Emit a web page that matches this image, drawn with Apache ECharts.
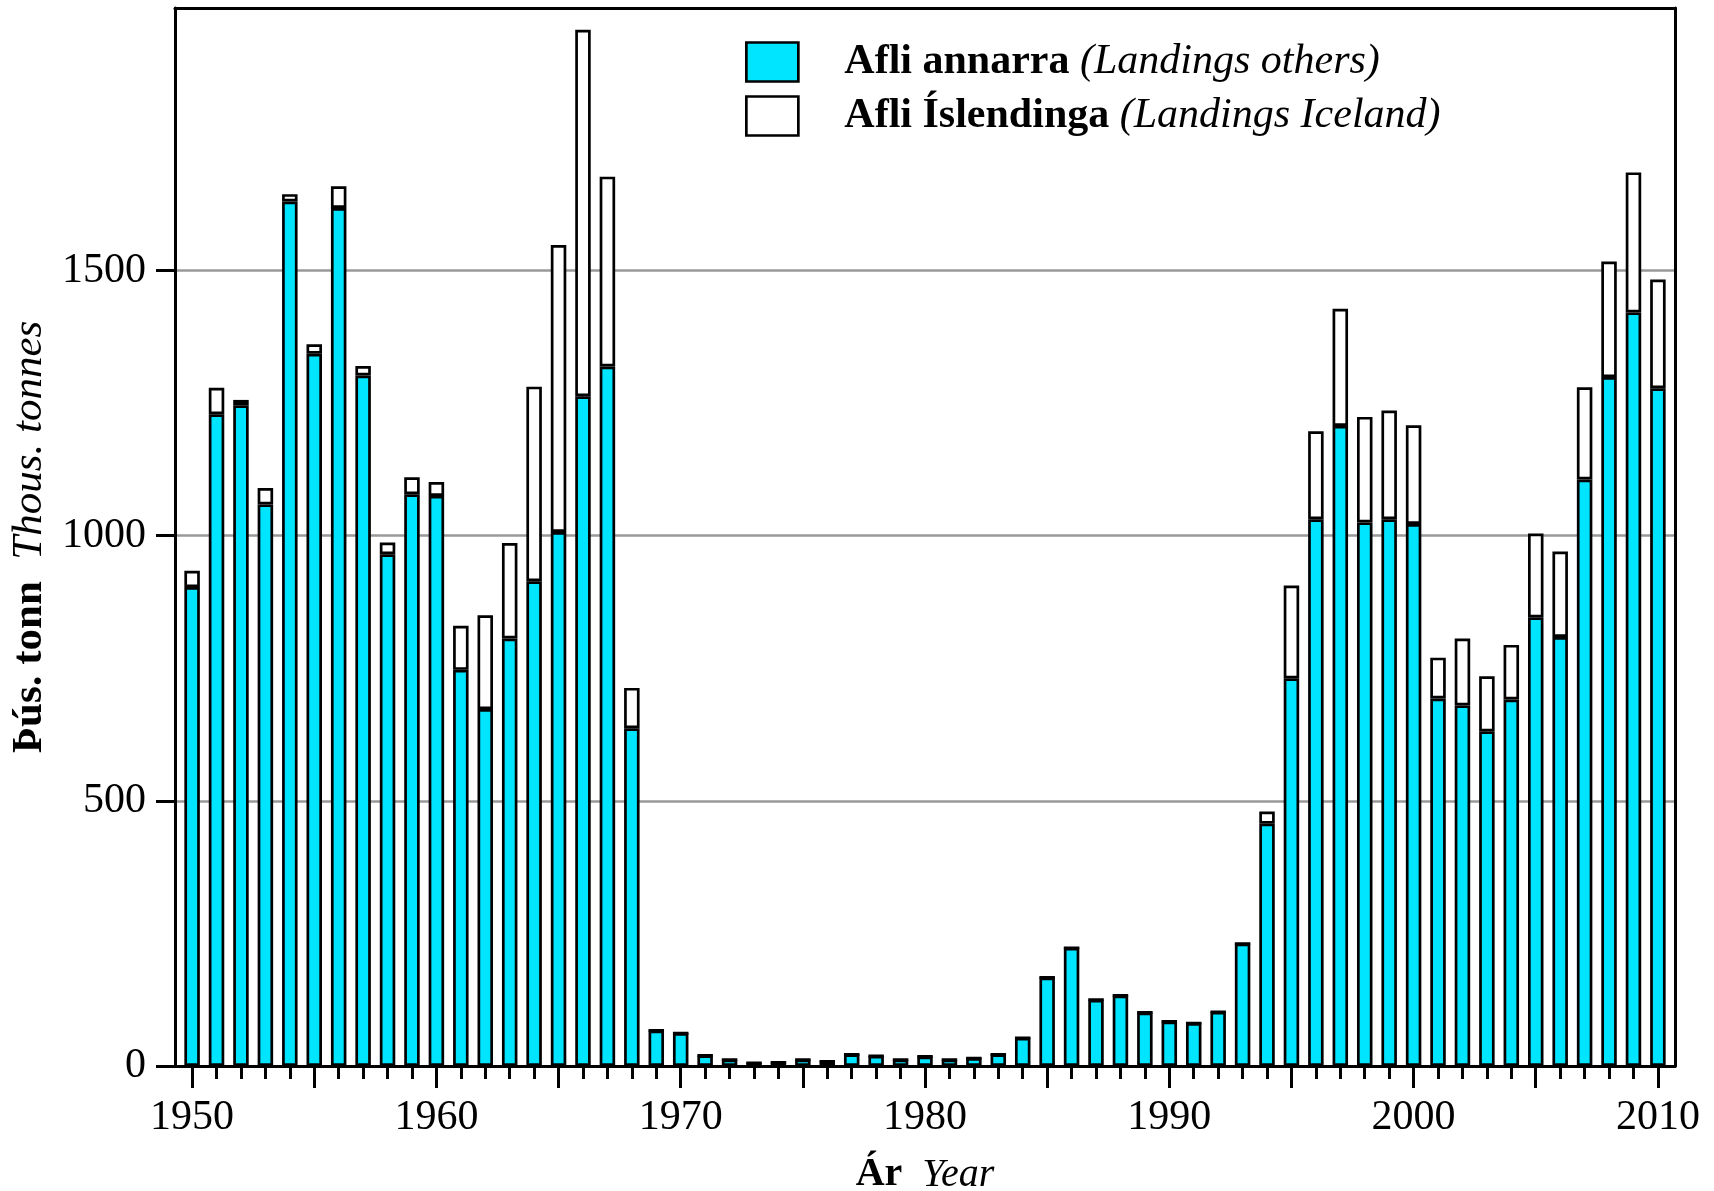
<!DOCTYPE html>
<html>
<head>
<meta charset="utf-8">
<script src="https://cdn.jsdelivr.net/npm/echarts@6/dist/echarts.min.js"></script>
<style>
  html, body { margin: 0; padding: 0; background: #fff; }
  #chart { width: 1714px; height: 1191px; }
</style>
</head>
<body>
<div id="chart"></div>
<script>
// landings, thousand tonnes
var years = [];
for (var y = 1950; y <= 2010; y++) years.push(y);

var others = [
  903, 1229, 1246, 1059, 1630, 1343, 1618, 1302, 965, 1078,
  1075, 747, 673, 806, 914, 1007, 1263, 1319, 637, 67,
  62, 20, 12, 6, 7, 12, 9, 22, 19, 12,
  18, 12, 15, 22, 53, 167, 223, 125, 133, 101,
  84, 81, 102, 231, 457, 731, 1031, 1207, 1025, 1031,
  1022, 693, 680, 631, 691, 846, 809, 1106, 1299, 1421,
  1278
];
var iceland = [
  31, 50, 10, 31, 14, 18, 41, 18, 22, 32,
  26, 83, 177, 180, 367, 541, 691, 358, 76, 0,
  0, 0, 0, 0, 0, 0, 0, 0, 0, 0,
  0, 0, 0, 0, 0, 0, 0, 0, 0, 0,
  0, 0, 0, 0, 23, 175, 166, 221, 199, 205,
  186, 77, 126, 104, 103, 158, 161, 174, 218, 264,
  205
];
var yTicks = [0, 500, 1000, 1500];
var xLabelYears = [1950, 1960, 1970, 1980, 1990, 2000, 2010];
var xMajorTicks = [1950, 1955, 1960, 1965, 1970, 1975, 1980, 1985, 1990, 1995, 2000, 2005, 2010];

var seriesNames = ['Afli annarra', 'Afli Íslendinga'];
var seriesNotes = ['(Landings others)', '(Landings Iceland)'];

var font = 'Liberation Serif';
var xMin = 1949.3, xMax = 2010.7, yMax = 1995;

// the bar grid is narrower so the category bands line up with the value axis of the frame
var gl = 175, gr = 39, gt = 8, gb = 125;
var pxYear = (1714 - gl - gr) / (xMax - xMin);
var barLeft = gl + (years[0] - 0.5 - xMin) * pxYear;
var barRight = 1714 - (barLeft + years.length * pxYear);

function plain(v) { return String(v); }

var myChart = echarts.init(document.getElementById('chart'));

var option = {
    animation: false,
    backgroundColor: '#fff',
    textStyle: { fontFamily: font },
    legend: {
        orient: 'vertical',
        left: 740,
        top: 36,
        itemWidth: 52,
        itemHeight: 39,
        itemGap: 12,
        icon: 'rect',
        selectedMode: false,
        itemStyle: { borderColor: '#000', borderWidth: 2.7 },
        data: seriesNames,
        formatter: function (name) {
            var i = seriesNames.indexOf(name);
            return '{b|' + name + ' }{i|' + seriesNotes[i] + '}';
        },
        textStyle: {
            fontFamily: font,
            color: '#000',
            rich: {
                b: { fontFamily: font, fontSize: 42, fontWeight: 'bold', color: '#000', lineHeight: 42, padding: [0, 0, 0, 41] },
                i: { fontFamily: font, fontSize: 42, fontStyle: 'italic', color: '#000', lineHeight: 42 }
            }
        }
    },
    grid: [
        { left: gl, right: gr, top: gt, bottom: gb, containLabel: false, outerBoundsMode: 'none' },
        { left: barLeft, right: barRight, top: gt, bottom: gb, containLabel: false, outerBoundsMode: 'none' }
    ],
    xAxis: [
        {
            type: 'value', gridIndex: 0, position: 'bottom', min: xMin, max: xMax,
            axisLine: { lineStyle: { color: '#000', width: 3 } },
            axisTick: { customValues: years, length: 13, lineStyle: { color: '#000', width: 3 } },
            axisLabel: { customValues: xLabelYears, formatter: plain, margin: 31, color: '#000', fontFamily: font, fontSize: 42 },
            splitLine: { show: false },
            name: '{b|Ár  }{i|Year}',
            nameLocation: 'middle',
            nameGap: 89,
            nameTextStyle: {
                rich: {
                    b: { fontFamily: font, fontSize: 40, fontWeight: 'bold', color: '#000' },
                    i: { fontFamily: font, fontSize: 40, fontStyle: 'italic', color: '#000' }
                }
            }
        },
        {
            type: 'value', gridIndex: 0, position: 'bottom', min: xMin, max: xMax,
            axisLine: { show: false },
            axisTick: { customValues: xMajorTicks, length: 22, lineStyle: { color: '#000', width: 3 } },
            axisLabel: { show: false },
            splitLine: { show: false }
        },
        {
            type: 'value', gridIndex: 0, position: 'top', min: xMin, max: xMax, z: 5,
            axisLine: { lineStyle: { color: '#000', width: 3 } },
            axisTick: { show: false },
            axisLabel: { show: false },
            splitLine: { show: false }
        },
        {
            type: 'category', gridIndex: 1, data: years,
            show: false
        }
    ],
    yAxis: [
        {
            type: 'value', gridIndex: 0, position: 'left', min: 0, max: yMax,
            axisLine: { show: true, lineStyle: { color: '#000', width: 3 } },
            axisTick: { show: true, customValues: yTicks, length: 19, lineStyle: { color: '#000', width: 3 } },
            axisLabel: { customValues: yTicks, formatter: plain, margin: 29, color: '#000', fontFamily: font, fontSize: 42 },
            splitLine: { show: true, lineStyle: { color: '#999', width: 2.5 } },
            name: '{b|Þús. tonn  }{i|Thous. tonnes}',
            nameLocation: 'middle',
            nameGap: 118,
            nameTextStyle: {
                rich: {
                    b: { fontFamily: font, fontSize: 43, fontWeight: 'bold', color: '#000' },
                    i: { fontFamily: font, fontSize: 43, fontStyle: 'italic', color: '#000' }
                }
            }
        },
        {
            type: 'value', gridIndex: 0, position: 'right', min: 0, max: yMax, z: 5,
            axisLine: { show: true, lineStyle: { color: '#000', width: 3 } },
            axisTick: { show: false },
            axisLabel: { show: false },
            splitLine: { show: false }
        },
        {
            type: 'value', gridIndex: 1, min: 0, max: yMax,
            show: false, splitLine: { show: false }
        }
    ],
    series: [
        {
            name: seriesNames[0],
            type: 'bar',
            xAxisIndex: 3,
            yAxisIndex: 2,
            stack: 'total',
            barWidth: 15.5,
            data: others,
            itemStyle: { color: '#00E5FF', borderColor: '#000', borderWidth: 2.7 }
        },
        {
            name: seriesNames[1],
            type: 'bar',
            xAxisIndex: 3,
            yAxisIndex: 2,
            stack: 'total',
            barWidth: 15.5,
            data: iceland,
            itemStyle: { color: '#fff', borderColor: '#000', borderWidth: 2.7 }
        }
    ]
};

myChart.setOption(option);
</script>
</body>
</html>
